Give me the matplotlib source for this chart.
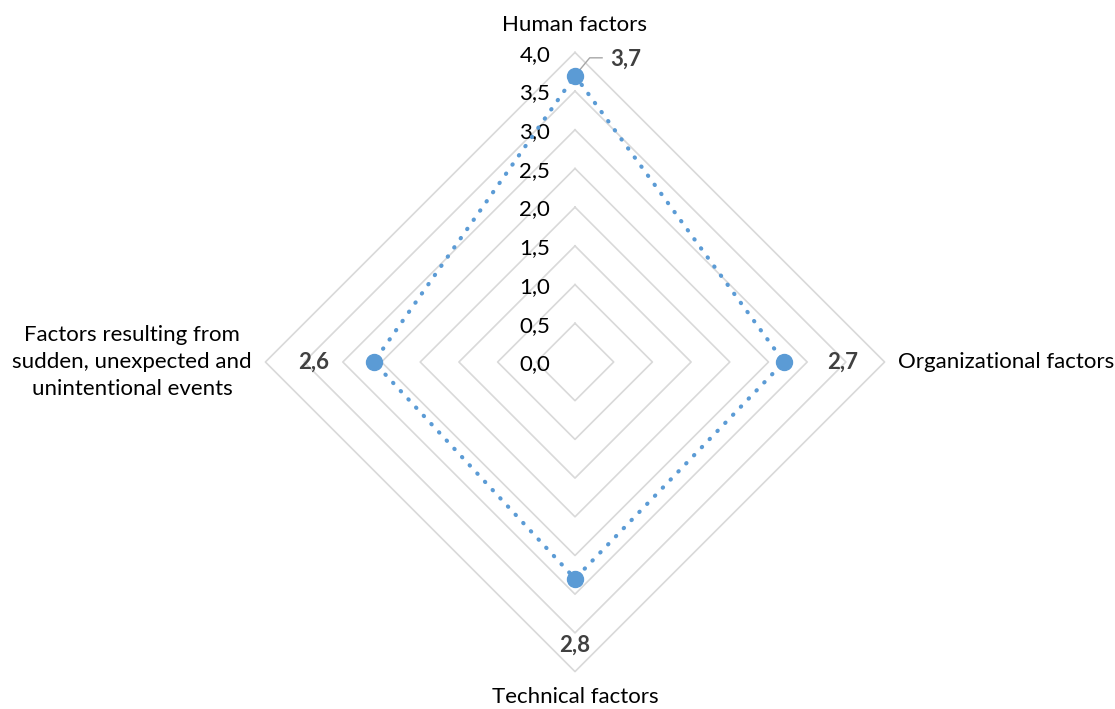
import numpy as np
import matplotlib
matplotlib.use("Agg")
import matplotlib.pyplot as plt

plt.rcParams['font.family'] = ['Lato', 'DejaVu Sans']

# Data
categories = ["Human factors", "Organizational factors", "Technical factors",
              "Factors resulting from\nsudden, unexpected and\nunintentional events"]
values = [3.7, 2.7, 2.8, 2.6]
ring_levels = [0.5, 1.0, 1.5, 2.0, 2.5, 3.0, 3.5, 4.0]
tick_labels = ["0,0", "0,5", "1,0", "1,5", "2,0", "2,5", "3,0", "3,5", "4,0"]
value_labels = ["3,7", "2,7", "2,8", "2,6"]

series_color = "#5B9BD5"
grid_color = "#D9D9D9"
label_color = "#404040"
fs = 16

# Axis directions (clockwise from top)
angles = np.array([0, 90, 180, 270]) * np.pi / 180.0
ux, uy = np.sin(angles), np.cos(angles)

fig = plt.figure(figsize=(11.15, 7.09), dpi=100)
ax = fig.add_axes([0, 0, 1, 1])
s = 77.4  # pixels per unit
ax.set_xlim(-575 / s, 540 / s)
ax.set_ylim(-(709 - 362) / s, 362 / s)
ax.axis("off")

# Diamond gridlines
for r in ring_levels:
    xs = np.append(r * ux, r * ux[0])
    ys = np.append(r * uy, r * uy[0])
    ax.plot(xs, ys, color=grid_color, lw=1.2, zorder=1)

# Radial tick labels along the top axis
for i, lab in enumerate(tick_labels):
    v = i * 0.5
    ax.text(-0.32, v - 0.03, lab, ha="right", va="center", fontsize=fs,
            color="black", zorder=2)

# Series
px = np.array(values) * ux
py = np.array(values) * uy
line, = ax.plot(np.append(px, px[0]), np.append(py, py[0]), color=series_color,
                lw=3.0, zorder=3)
line.set_dashes([0.1, 2.6])
line.set_dash_capstyle("round")
ax.plot(px, py, "o", color=series_color, ms=11.5, zorder=4, lw=0)

# Value labels
ax.plot([0.0, 0.19, 0.35], [3.7, 3.93, 3.93], color="#A6A6A6", lw=1.0, zorder=2)
ax.text(0.45, 3.91, value_labels[0], ha="left", va="center", fontsize=fs,
        fontweight="bold", color=label_color)
ax.text(values[1] + 0.76, 0, value_labels[1], ha="center", va="center",
        fontsize=fs, fontweight="bold", color=label_color)
ax.text(0, -(values[2] + 0.86), value_labels[2], ha="center", va="center",
        fontsize=fs, fontweight="bold", color=label_color)
ax.text(-(values[3] + 0.78), 0, value_labels[3], ha="center", va="center",
        fontsize=fs, fontweight="bold", color=label_color)

# Category labels
ax.text(0, 4.35, categories[0], ha="center", va="center", fontsize=fs)
ax.text(4.17, 0, categories[1], ha="left", va="center", fontsize=fs)
ax.text(0, -4.33, categories[2], ha="center", va="center", fontsize=fs)
ax.text(-5.72, 0, categories[3], ha="center", va="center", fontsize=fs,
        linespacing=1.45, multialignment="center")

fig.savefig("out.png", dpi=100)
